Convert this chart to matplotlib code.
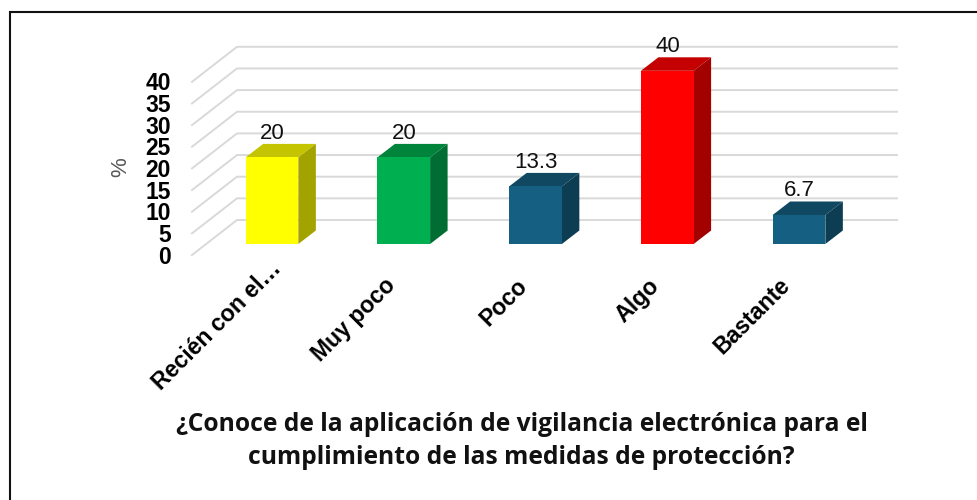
import matplotlib
matplotlib.use("Agg")
import matplotlib.pyplot as plt
from matplotlib.patches import Polygon

categories = ["Recién con el…", "Muy poco", "Poco", "Algo", "Bastante"]
values = [20, 20, 13.3, 40, 6.7]
value_labels = ["20", "20", "13.3", "40", "6.7"]
front_colors = ["#FFFF00", "#00B050", "#156082", "#FF0000", "#156082"]
top_colors = ["#C4C400", "#00843C", "#104862", "#C40000", "#104862"]
side_colors = ["#A3A300", "#006E32", "#0D3D52", "#A30000", "#0D3D52"]
y_ticks = [0, 5, 10, 15, 20, 25, 30, 35, 40]
title_lines = "¿Conoce de la aplicación de vigilancia electrónica para el\ncumplimiento de las medidas de protección?"

W, H = 977, 500
PX_PER_CAT = 131.75
PX_PER_UNIT = 4.33
X0, Y0 = 272.0, 244.0

fig = plt.figure(figsize=(W / 100, H / 100), dpi=100, facecolor="white")
ax = fig.add_axes([0, 0, 1, 1])
ax.set_xlim(-X0 / PX_PER_CAT, (W - X0) / PX_PER_CAT)
ax.set_ylim((Y0 - H) / PX_PER_UNIT, Y0 / PX_PER_UNIT)
ax.axis("off")

dx = lambda px: px / PX_PER_CAT
dy = lambda px: px / PX_PER_UNIT

# Frame: open at the right and bottom
ax.plot([dx(10 - X0), dx(10 - X0), dx(W - X0)],
        [dy(Y0 - H), dy(Y0 - 12), dy(Y0 - 12)],
        color="#111111", lw=1.5, solid_joinstyle="miter")

# Gridlines
grid_c = "#D9D9D9"
for v in y_ticks:
    yb = v + dy(24)
    xb = dx(237 - X0)
    xe = dx(897 - X0)
    xf = dx(192 - X0)
    yf = v - dy(11)
    ax.plot([xf, xb, xe], [yf, yb, yb], color=grid_c, lw=1.4, zorder=1, solid_joinstyle="miter")
    ax.text(dx(171 - X0), v - dy(13), str(v), ha="right", va="center",
            fontsize=16.5, fontweight="bold", family="Liberation Sans", color="black")

# Bars
bw = 0.2
ddx, ddy = dx(17.5), dy(13.5)
for i, (v, f, t, s, lab) in enumerate(zip(values, front_colors, top_colors, side_colors, value_labels)):
    l, r = i - bw, i + bw
    ax.add_patch(Polygon([(l, v), (r, v), (r + ddx, v + ddy), (l + ddx, v + ddy)], fc=t, ec="none", zorder=3))
    ax.add_patch(Polygon([(r, 0), (r + ddx, ddy), (r + ddx, v + ddy), (r, v)], fc=s, ec="none", zorder=3))
    ax.add_patch(Polygon([(l, 0), (r, 0), (r, v), (l, v)], fc=f, ec="none", zorder=4))
    ax.text(i + dx(0.5), v + dy(24), lab, ha="center", va="center", fontsize=16,
            family="Liberation Sans", color="#111111", zorder=5)

# Category labels: the long truncated one sits closer to the axis
for i, c in enumerate(categories):
    shift_x, shift_y = (6, -21) if i == 0 else (-12, -38)
    ax.text(i + dx(shift_x), dy(shift_y), c, rotation=45, rotation_mode="anchor", ha="right", va="center",
            fontsize=16.7, fontweight="bold", family="Liberation Sans", color="black")

ax.text(dx(121 - X0), dy(Y0 - 167), "%", rotation=90, ha="center", va="center", fontsize=16,
        family="Liberation Sans", color="#595959")
ax.text(dx(521.5 - X0), dy(Y0 - 441), title_lines, ha="center", va="center", fontsize=17.75,
        fontweight="bold", family="Open Sans", color="#111111", linespacing=1.41)

fig.savefig("out.png", dpi=100, facecolor="white")
